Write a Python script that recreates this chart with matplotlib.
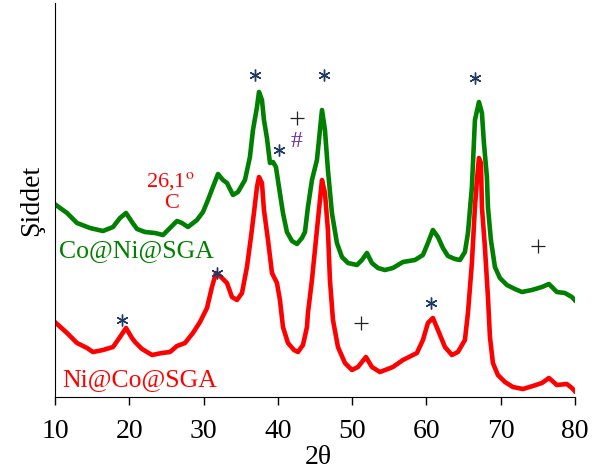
import numpy as np
import matplotlib.pyplot as plt

plt.rcParams['font.family'] = ['Liberation Serif', 'DejaVu Serif']
plt.rcParams['mathtext.fontset'] = 'stix'

# 2theta (deg) and intensity (arb. units)
two_theta_green = [10.13, 11.62, 12.96, 14.71, 16.46, 17.81, 18.75, 19.56, 20.36, 21.04,
                   22.11, 23.46, 24.54, 25.48, 26.42, 27.09, 27.90, 29.11, 29.92, 30.59,
                   31.26, 31.94, 32.61, 33.15, 33.96, 34.63, 35.57, 36.24, 36.65, 37.19,
                   37.46, 37.86, 38.13, 38.53, 38.94, 39.34, 39.74, 40.15, 40.69, 41.22,
                   41.90, 42.57, 43.24, 43.65, 44.05, 44.59, 45.26, 45.67, 45.94, 46.34,
                   46.74, 47.28, 47.95, 48.63, 49.43, 50.65, 51.32, 51.99, 52.66, 53.47,
                   54.41, 55.49, 56.84, 58.45, 59.53, 60.20, 60.87, 61.55, 62.22, 62.89,
                   63.84, 64.51, 65.18, 65.59, 66.12, 66.53, 67.07, 67.47, 67.74, 68.14,
                   68.28, 68.68, 69.22, 69.89, 70.83, 71.91, 72.85, 74.20, 75.55, 76.49,
                   77.56, 78.64, 79.58, 79.95]
int_green = [195, 187, 177, 172, 169, 173, 182, 187, 178, 171,
             168, 167, 165, 172, 179, 177, 173, 180, 188, 200,
             213, 226, 220, 217, 205, 208, 220, 243, 270, 293,
             308, 300, 280, 262, 237, 238, 233, 213, 187, 168,
             159, 156, 162, 168, 193, 220, 240, 270, 290, 270,
             230, 187, 157, 143, 137, 135, 140, 147, 137, 132,
             130, 132, 138, 140, 145, 157, 170, 163, 152, 144,
             141, 140, 148, 167, 213, 280, 298, 287, 257, 223,
             193, 160, 133, 122, 115, 111, 108, 110, 113, 116,
             108, 107, 103, 100]

two_theta_red = [10.13, 11.62, 12.96, 14.31, 15.11, 16.46, 17.81, 18.75, 19.56, 20.36,
                 20.77, 21.71, 23.06, 24.40, 25.48, 26.42, 27.50, 28.57, 29.52, 30.46,
                 31.13, 31.67, 32.21, 32.75, 33.15, 33.82, 34.50, 35.17, 35.84, 36.38,
                 36.78, 37.19, 37.46, 37.86, 38.13, 38.67, 39.21, 39.88, 40.28, 40.69,
                 41.36, 42.17, 42.71, 43.38, 43.92, 44.05, 44.59, 45.26, 45.67, 45.94,
                 46.34, 46.74, 47.01, 47.42, 48.09, 49.03, 49.97, 50.78, 51.86, 52.66,
                 53.74, 55.49, 56.84, 58.72, 59.53, 60.20, 60.87, 61.55, 62.49, 63.43,
                 64.24, 65.18, 65.59, 66.12, 66.53, 66.80, 67.07, 67.34, 67.47, 67.87,
                 68.28, 68.55, 68.95, 69.62, 70.57, 71.64, 72.99, 74.33, 75.55, 76.49,
                 77.56, 78.90, 79.58, 79.95]
int_red = [77, 67, 57, 52, 48, 50, 53, 63, 72, 62,
           58, 51, 45, 47, 48, 54, 57, 67, 78, 92,
           113, 127, 124, 120, 117, 103, 100, 107, 133, 163,
           187, 213, 223, 217, 190, 160, 127, 117, 100, 73,
           57, 50, 48, 55, 73, 87, 120, 170, 200, 220,
           207, 170, 120, 80, 53, 37, 30, 33, 43, 33,
           28, 33, 40, 47, 60, 77, 82, 70, 53, 45,
           48, 60, 87, 137, 193, 220, 242, 237, 193, 153,
           103, 63, 37, 25, 18, 13, 11, 14, 17, 22,
           15, 16, 12, 9]

# peak markers
star_x = [36.92, 46.2, 40.15, 66.53, 31.8, 19.0, 60.6]
star_y = [325, 325, 250, 322, 127, 80, 97]
plus_x = [42.57, 51.2, 75.0]
plus_y = [282, 77, 154]

fig = plt.figure(figsize=(5.95, 4.73), dpi=100)
ax = fig.add_axes([55 / 595, 76 / 473, 520 / 595, 394 / 473])

ax.plot(two_theta_green, int_green, color='#008000', lw=3.3, solid_joinstyle='round')
ax.plot(two_theta_red, int_red, color='#FF0000', lw=3.3, solid_joinstyle='round')

ax.plot(star_x, star_y, ls='none', marker=(6, 2, 0), ms=8.5, mew=1.0, color='#1F3864')
ax.plot(plus_x, plus_y, ls='none', marker='+', ms=10, mew=0.9, color='#222222')
ax.text(42.57, 259, '#', color='#7030A0', fontsize=17, ha='center', va='center')

ax.text(25.5, 219, r'26,1$^{\mathrm{o}}$', color='#FF0000', fontsize=16, ha='center', va='center')
ax.text(25.75, 197, 'C', color='#FF0000', fontsize=16, ha='center', va='center')

ax.text(10.6, 149, 'Co@Ni@SGA', color='#008000', fontsize=18.5, ha='left', va='center')
ax.text(11.0, 20, 'Ni@Co@SGA', color='#FF0000', fontsize=18.5, ha='left', va='center')

ax.set_xlim(10, 80)
ax.set_ylim(3, 397)
ax.set_xticks([10, 20, 30, 40, 50, 60, 70, 80])
ax.set_yticks([])
ax.tick_params(axis='x', direction='out', length=6, width=1, labelsize=20, pad=10)
ax.spines['top'].set_visible(False)
ax.spines['right'].set_visible(False)
ax.set_ylabel('Şiddet', fontsize=20, labelpad=8)

fig.text(318 / 595, 1 - 457 / 473, '2θ', fontsize=20, ha='center', va='center')

fig.savefig('out.png', dpi=100)
